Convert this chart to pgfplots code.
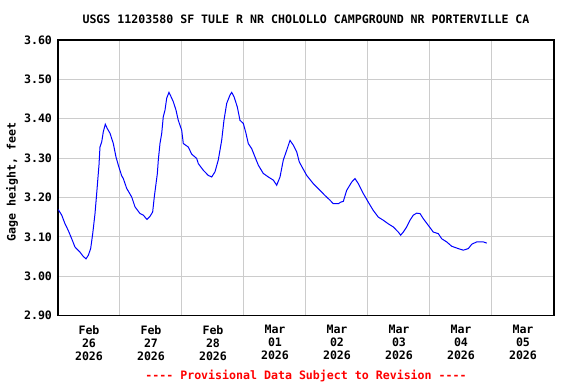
\documentclass[border=0pt]{standalone}
\usepackage{fontspec}
\setmonofont{DejaVu Sans Mono}
\usepackage{pgfplots}
\pgfplotsset{compat=1.18}
\definecolor{gridgray}{RGB}{204,204,204}
\newcommand\uf{\fontsize{11.6bp}{13bp}\selectfont\ttfamily\bfseries}
\begin{document}
\begin{tikzpicture}
\useasboundingbox (-58bp,-68.5bp) rectangle (518bp,315.5bp);
\begin{axis}[
  at={(0,0)}, anchor=south west, scale only axis,
  width=496bp, height=275.5bp,
  xmin=0, xmax=8, ymin=2.9, ymax=3.6,
  xtick={0.5,1.5,2.5,3.5,4.5,5.5,6.5,7.5},
  xticklabels={{Feb\\26\\2026},{Feb\\27\\2026},{Feb\\28\\2026},{Mar\\01\\2026},{Mar\\02\\2026},{Mar\\03\\2026},{Mar\\04\\2026},{Mar\\05\\2026}},
  minor xtick={1,2,3,4,5,6,7},
  xminorgrids=true, ymajorgrids=true, xmajorgrids=false,
  ytick={2.9,3.0,3.1,3.2,3.3,3.4,3.5,3.6},
  major tick length=0, minor tick length=0,
  yticklabel style={/pgf/number format/fixed, /pgf/number format/fixed zerofill, /pgf/number format/precision=2, /pgf/number format/assume math mode=true, xshift=-2.5bp},
  ticklabel style={font=\uf},
  xticklabel style={align=center, yshift=-6.5bp},
  grid style={gridgray, line width=1bp},
  minor grid style={gridgray, line width=1bp},
  axis line style={line width=1.3bp},
]
\addplot[blue, line width=1bp] table {
0.005 3.169
0.060 3.155
0.113 3.133
0.166 3.116
0.221 3.095
0.274 3.074
0.355 3.061
0.408 3.050
0.452 3.044
0.489 3.053
0.527 3.070
0.560 3.108
0.597 3.159
0.624 3.210
0.650 3.261
0.661 3.282
0.677 3.328
0.705 3.341
0.731 3.367
0.763 3.386
0.795 3.375
0.839 3.363
0.892 3.337
0.935 3.303
0.973 3.282
1.027 3.255
1.053 3.248
1.108 3.223
1.189 3.201
1.242 3.176
1.323 3.159
1.376 3.155
1.435 3.144
1.484 3.152
1.527 3.163
1.553 3.201
1.581 3.235
1.602 3.260
1.618 3.295
1.645 3.337
1.673 3.363
1.698 3.405
1.726 3.422
1.753 3.452
1.790 3.467
1.823 3.456
1.860 3.443
1.903 3.422
1.940 3.396
1.995 3.371
2.021 3.337
2.102 3.328
2.156 3.310
2.237 3.299
2.263 3.286
2.344 3.269
2.424 3.256
2.479 3.252
2.532 3.265
2.585 3.295
2.640 3.345
2.677 3.396
2.721 3.439
2.774 3.460
2.802 3.467
2.839 3.456
2.892 3.430
2.935 3.396
2.989 3.388
3.032 3.363
3.069 3.337
3.124 3.324
3.177 3.303
3.231 3.282
3.311 3.261
3.392 3.252
3.473 3.244
3.527 3.231
3.581 3.252
3.634 3.295
3.689 3.320
3.742 3.345
3.795 3.333
3.850 3.316
3.892 3.290
4.011 3.256
4.118 3.235
4.226 3.218
4.306 3.205
4.387 3.193
4.440 3.184
4.521 3.184
4.560 3.188
4.602 3.190
4.656 3.218
4.737 3.239
4.790 3.248
4.844 3.235
4.924 3.210
5.005 3.188
5.085 3.167
5.166 3.150
5.247 3.142
5.327 3.133
5.408 3.125
5.489 3.112
5.527 3.104
5.569 3.112
5.624 3.125
5.677 3.142
5.731 3.155
5.785 3.160
5.839 3.159
5.892 3.146
5.973 3.129
6.053 3.112
6.134 3.108
6.189 3.095
6.269 3.087
6.350 3.076
6.456 3.070
6.537 3.066
6.618 3.070
6.673 3.081
6.753 3.087
6.860 3.087
6.915 3.084
};
\end{axis}
\node[font=\uf] at (248bp,296.5bp) {USGS 11203580 SF TULE R NR CHOLOLLO CAMPGROUND NR PORTERVILLE CA};
\node[font=\uf, rotate=90] at (-46bp,133.5bp) {Gage height, feet};
\node[font=\uf, text=red] at (248bp,-60.5bp) {---- Provisional Data Subject to Revision ----};
\end{tikzpicture}
\end{document}
